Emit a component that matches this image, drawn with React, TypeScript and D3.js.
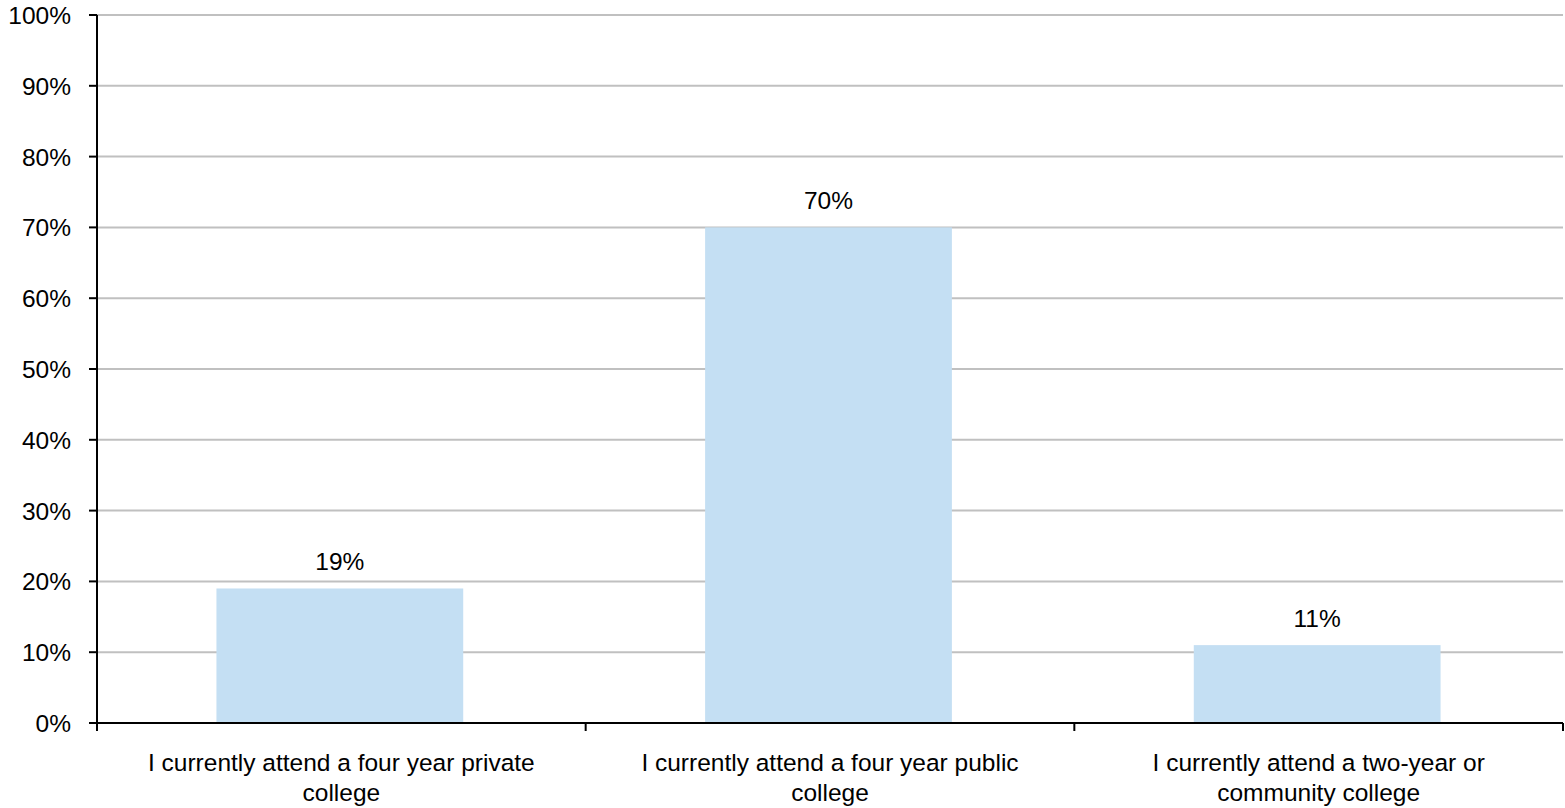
import React, { useEffect, useRef } from "react";
import * as d3 from "d3";

const categories = [
  ["I currently attend a four year private", "college"],
  ["I currently attend a four year public", "college"],
  ["I currently attend a two-year or", "community college"],
];
const values = [19, 70, 11];
const yTicks = [0, 10, 20, 30, 40, 50, 60, 70, 80, 90, 100];

const W = 1565;
const H = 808;
const M = { left: 97, right: 2, top: 15, bottom: 85 };
const FS = 24.5;

export default function App() {
  const ref = useRef<SVGSVGElement>(null);
  useEffect(() => {
    const svg = d3.select(ref.current);
    svg.selectAll("*").remove();
    const font = "'Liberation Sans', Arial, sans-serif";
    const x = d3
      .scaleBand<number>()
      .domain(d3.range(categories.length))
      .range([M.left, W - M.right])
      .paddingInner(0.495)
      .paddingOuter(0.2475);
    const xOuter = d3
      .scaleBand<number>()
      .domain(d3.range(categories.length))
      .range([M.left, W - M.right]);
    const y = d3.scaleLinear().domain([0, 100]).range([H - M.bottom, M.top]);
    const y0 = y(0);

    svg
      .append("g")
      .selectAll("line")
      .data(yTicks.filter((t) => t > 0))
      .join("line")
      .attr("x1", M.left)
      .attr("x2", W - M.right)
      .attr("y1", (d) => y(d))
      .attr("y2", (d) => y(d))
      .attr("stroke", "#c0c0c0")
      .attr("stroke-width", 2);

    svg
      .append("g")
      .selectAll("rect")
      .data(values)
      .join("rect")
      .attr("x", (_, i) => x(i)! - 1.5)
      .attr("width", x.bandwidth())
      .attr("y", (d) => y(d))
      .attr("height", (d) => y0 - y(d))
      .attr("fill", "#c4dff3");

    svg
      .append("g")
      .selectAll("text")
      .data(values)
      .join("text")
      .attr("x", (_, i) => x(i)! - 1.5 + x.bandwidth() / 2)
      .attr("y", (d) => y(d) - 18)
      .attr("text-anchor", "middle")
      .attr("font-family", font)
      .attr("font-size", FS)
      .attr("fill", "#000")
      .text((d) => `${d}%`);

    svg
      .append("line")
      .attr("x1", M.left)
      .attr("x2", M.left)
      .attr("y1", y(100))
      .attr("y2", y0)
      .attr("stroke", "#000")
      .attr("stroke-width", 2);
    const yt = svg.append("g");
    yt.selectAll("line")
      .data(yTicks)
      .join("line")
      .attr("x1", M.left - 8)
      .attr("x2", M.left)
      .attr("y1", (d) => y(d))
      .attr("y2", (d) => y(d))
      .attr("stroke", "#000")
      .attr("stroke-width", 2);
    yt.selectAll("text")
      .data(yTicks)
      .join("text")
      .attr("x", 71)
      .attr("y", (d) => y(d) + 9)
      .attr("text-anchor", "end")
      .attr("font-family", font)
      .attr("font-size", FS)
      .attr("fill", "#000")
      .text((d) => `${d}%`);

    svg
      .append("line")
      .attr("x1", M.left - 8)
      .attr("x2", W - M.right)
      .attr("y1", y0)
      .attr("y2", y0)
      .attr("stroke", "#000")
      .attr("stroke-width", 2);
    const bounds = [...d3.range(categories.length).map((i) => xOuter(i)!), W - M.right];
    svg
      .append("g")
      .selectAll("line")
      .data(bounds)
      .join("line")
      .attr("x1", (d) => d)
      .attr("x2", (d) => d)
      .attr("y1", y0)
      .attr("y2", y0 + 8)
      .attr("stroke", "#000")
      .attr("stroke-width", 2);
    const xl = svg
      .append("g")
      .selectAll("text")
      .data(categories)
      .join("text")
      .attr("text-anchor", "middle")
      .attr("font-family", font)
      .attr("font-size", FS)
      .attr("fill", "#000");
    xl.each(function (lines, i) {
      const t = d3.select(this);
      lines.forEach((ln, j) => {
        t.append("tspan")
          .attr("x", xOuter(i)! + xOuter.bandwidth() / 2)
          .attr("y", y0 + 48 + j * 30)
          .text(ln);
      });
    });
  }, []);
  return (
    <svg
      ref={ref}
      width={W}
      height={H}
      style={{ position: "absolute", left: 0, top: 0, background: "#fff" }}
    />
  );
}
